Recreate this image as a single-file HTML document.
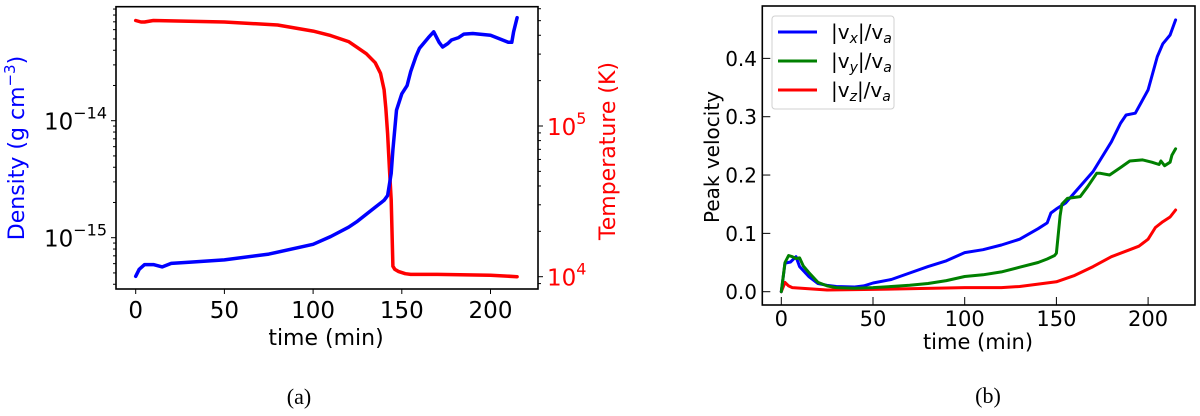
<!DOCTYPE html>
<html><head><meta charset="utf-8">
<style>
html,body{margin:0;padding:0;background:#fff;}
svg{display:block;font-family:"DejaVu Sans","Liberation Sans",sans-serif;}
</style></head>
<body>
<svg id="fig" width="1200" height="416" viewBox="0 0 1200 416" xmlns="http://www.w3.org/2000/svg">
<g id="pa"></g>
<g id="pb"></g>
</svg>
<script>
// ---- Panel (a) data ----
const densTime = [0,2,5,10,15,20,30,50,75,100,110,120,125,130,135,140,142,144,145,147,150,153,155,158,160,165,168,171,173,176,178,182,185,190,200,205,210,212,213,215];
const densLog  = [-15.33,-15.27,-15.23,-15.23,-15.25,-15.22,-15.21,-15.19,-15.14,-15.056,-14.99,-14.91,-14.86,-14.80,-14.74,-14.68,-14.64,-14.45,-14.25,-13.91,-13.77,-13.70,-13.58,-13.45,-13.38,-13.29,-13.24,-13.33,-13.37,-13.34,-13.31,-13.29,-13.26,-13.255,-13.27,-13.30,-13.33,-13.33,-13.24,-13.12];
const tempTime = [0,3,5,10,30,50,80,100,110,120,125,130,135,138,140,141,142,143,144,145,146,148,152,155,170,200,215];
const tempLog  = [5.70,5.69,5.69,5.70,5.695,5.69,5.67,5.63,5.60,5.56,5.52,5.48,5.42,5.35,5.24,5.12,4.95,4.72,4.51,4.07,4.05,4.035,4.02,4.015,4.015,4.01,4.00];
const aXTicks = [0,50,100,150,200];
const aDensTicks = [-15,-14];
const aTempTicks = [4,5];

// ---- Panel (b) data ----
const velTime_x = [0,2,5,8,10,15,20,25,30,40,45,50,60,70,80,90,100,110,120,130,140,145,147,150,155,160,170,180,185,188,193,200,205,208,212,215];
const velX = [0,0.049,0.051,0.06,0.043,0.026,0.014,0.011,0.009,0.008,0.01,0.015,0.021,0.032,0.043,0.053,0.067,0.072,0.08,0.09,0.108,0.118,0.135,0.142,0.152,0.17,0.206,0.257,0.289,0.303,0.306,0.346,0.403,0.425,0.44,0.466];
const velTime_y = [0,2,4,6,8,10,12,15,20,25,30,40,50,60,70,80,90,100,110,120,130,140,145,149,150,152,153,156,163,167,172,174,179,185,190,197,202,206,207,209,212,213,215];
const velY = [0,0.05,0.062,0.06,0.057,0.058,0.044,0.033,0.016,0.01,0.007,0.006,0.007,0.009,0.011,0.014,0.019,0.026,0.029,0.034,0.042,0.05,0.056,0.062,0.066,0.13,0.15,0.16,0.163,0.18,0.203,0.203,0.2,0.213,0.224,0.226,0.222,0.218,0.224,0.216,0.222,0.234,0.245];
const velTime_z = [0,2,4,6,15,25,50,100,120,130,140,150,160,170,180,190,195,200,204,208,212,215];
const velZ = [0,0.016,0.01,0.007,0.005,0.003,0.004,0.007,0.007,0.009,0.013,0.017,0.028,0.043,0.06,0.072,0.078,0.09,0.11,0.12,0.128,0.14];
const bXTicks = [0,50,100,150,200];
const bYTicks = [0.0,0.1,0.2,0.3,0.4];
const bYTickLabels = ["0.0","0.1","0.2","0.3","0.4"];

const NS="http://www.w3.org/2000/svg";
function mk(tag, attrs, parent){const e=document.createElementNS(NS,tag);for(const k in attrs)e.setAttribute(k,attrs[k]);parent.appendChild(e);return e;}

// ---- Panel (a) ----
const pa=document.getElementById('pa');
const aL=116,aR=538,aT=6.7,aB=289;
const ax=t=>135.7+t*1.774;
const ayD=l=>237.7-(l+15)*117;
const ayT=l=>276.7-(l-4)*150.7;
function poly(parent, xs, ys, fx, fy, color, w){
  const p=xs.map((t,i)=>fx(t).toFixed(1)+','+fy(ys[i]).toFixed(1)).join(' ');
  return mk('polyline',{points:p,fill:'none',stroke:color,'stroke-width':w,'stroke-linejoin':'round','stroke-linecap':'round'},parent);
}
const tl=poly(pa,tempTime,tempLog,ax,ayT,'#ff0000',3.5);


const dl=poly(pa,densTime,densLog,ax,ayD,'#0000ff',3.5);


const fa=mk('rect',{x:aL,y:aT,width:aR-aL,height:aB-aT,fill:'none',stroke:'#000','stroke-width':1.6},pa);


aXTicks.forEach(t=>{
  mk('line',{x1:ax(t),x2:ax(t),y1:aB,y2:aB+5,stroke:'#000','stroke-width':1},pa);
  const tx=mk('text',{x:ax(t),y:318,'font-size':23,'text-anchor':'middle',fill:'#000'},pa);
  tx.textContent=t;
  
  
});
for(let d=-16;d<=-13;d++){for(let m=1;m<10;m++){const l=d+Math.log10(m);const y=ayD(l);if(y<aT||y>aB)continue;
  mk('line',{x1:aL,x2:aL-(m==1?5:3),y1:y,y2:y,stroke:'#000','stroke-width':1},pa);}}
aDensTicks.forEach(l=>{
  const tx=mk('text',{x:107,y:ayD(l)+9,'font-size':23,'text-anchor':'end',fill:'#000'},pa);
  tx.innerHTML='10<tspan dy="-11" font-size="16">−'+Math.abs(l)+'</tspan>';
  
  
});
for(let d=3;d<=6;d++){for(let m=1;m<10;m++){const l=d+Math.log10(m);const y=ayT(l);if(y<aT||y>aB)continue;
  mk('line',{x1:aR,x2:aR+(m==1?5:3),y1:y,y2:y,stroke:'#000','stroke-width':1},pa);}}
aTempTicks.forEach(l=>{
  const tx=mk('text',{x:547,y:ayT(l)+9,'font-size':23,fill:'#ff0000'},pa);
  tx.innerHTML='10<tspan dy="-11" font-size="16">'+l+'</tspan>';
  
  
});
</script>
<script>
const pa2=document.getElementById('pa');
pa2.insertAdjacentHTML('beforeend',
 '<text x="326" y="345" font-size="22" text-anchor="middle">time (min)</text>'+
 '<text transform="translate(24,148) rotate(-90)" font-size="22" text-anchor="middle" fill="#0000ff">Density (g cm<tspan dy="-9" font-size="15">−3</tspan><tspan dy="9">)</tspan></text>'+
 '<text transform="translate(615,151) rotate(-90)" font-size="22" text-anchor="middle" fill="#ff0000">Temperature (K)</text>'+
 '<text x="299" y="404" font-size="22" text-anchor="middle" font-family="Liberation Serif, serif">(a)</text>');
</script>
<script>
// ---- Panel (b) ----
const pb=document.getElementById('pb');
const bL=762.3,bR=1195,bT=6,bB=305;
const bx=t=>781.3+t*1.834;
const by=v=>291.7-v*583.3;
const lz=poly(pb,velTime_z,velZ,bx,by,'#ff0000',3);


const lx=poly(pb,velTime_x,velX,bx,by,'#0000ff',3);


const ly=poly(pb,velTime_y,velY,bx,by,'#008000',3);


const fb=mk('rect',{x:bL,y:bT,width:bR-bL,height:bB-bT,fill:'none',stroke:'#000','stroke-width':1.6},pb);


bXTicks.forEach(t=>{
  mk('line',{x1:bx(t),x2:bx(t),y1:bB,y2:bB-8,stroke:'#000','stroke-width':1},pb);
  const tx=mk('text',{x:bx(t),y:326,'font-size':21,'text-anchor':'middle'},pb);
  tx.textContent=t;
  
  
});
bYTicks.forEach((v,i)=>{
  mk('line',{x1:bL,x2:bL+8,y1:by(v),y2:by(v),stroke:'#000','stroke-width':1},pb);
  const tx=mk('text',{x:757,y:by(v)+7.5,'font-size':20,'text-anchor':'end'},pb);
  tx.textContent=bYTickLabels[i];
  
  
});
pb.insertAdjacentHTML('beforeend',
 '<text x="978" y="349" font-size="21" text-anchor="middle">time (min)</text>'+
 '<text transform="translate(719,157) rotate(-90)" font-size="20" text-anchor="middle">Peak velocity</text>'+
 '<text x="988" y="403" font-size="22" text-anchor="middle" font-family="Liberation Serif, serif">(b)</text>'+
 '<g>'+
 '<rect x="772" y="16" width="122" height="93" rx="3" fill="#fff" stroke="#d0d0d0" stroke-width="1"/>'+
 '<line x1="778" x2="817" y1="32" y2="32" stroke="#0000ff" stroke-width="3"/>'+
 '<line x1="778" x2="817" y1="61" y2="61" stroke="#008000" stroke-width="3"/>'+
 '<line x1="778" x2="817" y1="90" y2="90" stroke="#ff0000" stroke-width="3"/>'+
 '<text x="831" y="39" font-size="20">|v<tspan font-style="italic" font-size="14" dy="4">x</tspan><tspan dy="-4">|/v</tspan><tspan font-style="italic" font-size="14" dy="4">a</tspan></text>'+
 '<text x="831" y="68" font-size="20">|v<tspan font-style="italic" font-size="14" dy="4">y</tspan><tspan dy="-4">|/v</tspan><tspan font-style="italic" font-size="14" dy="4">a</tspan></text>'+
 '<text x="831" y="97" font-size="20">|v<tspan font-style="italic" font-size="14" dy="4">z</tspan><tspan dy="-4">|/v</tspan><tspan font-style="italic" font-size="14" dy="4">a</tspan></text>'+
 '</g>');
</script>
</body></html>
